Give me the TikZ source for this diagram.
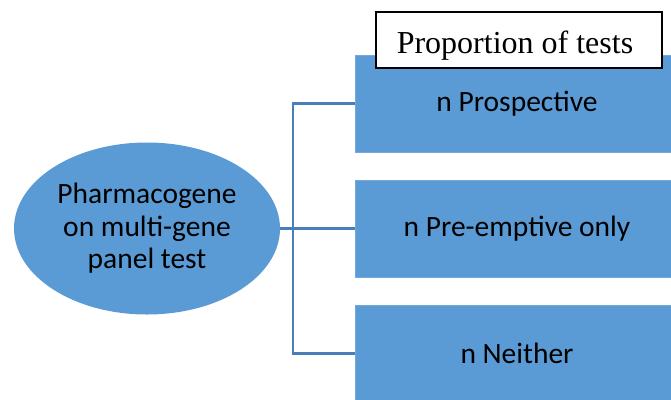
\documentclass[tikz,border=0pt]{standalone}
\usepackage{fontspec}
\setmainfont{Liberation Serif}
\newfontfamily\calib{Carlito}
\usetikzlibrary{shapes.geometric}
\definecolor{boxblue}{HTML}{5B9BD5}
\definecolor{lineblue}{HTML}{4A7EBB}
\begin{document}
\begin{tikzpicture}[x=1pt,y=-1pt,
  blubox/.style={rectangle,fill=boxblue,draw=boxblue!85!white,line width=0.8pt,minimum width=324pt,minimum height=97pt,inner sep=0pt,font=\calib\fontsize{29.5}{32}\selectfont},
  conn/.style={draw=lineblue,line width=2.2pt}]
\useasboundingbox (0,0) rectangle (671,399);
\clip (0,0) rectangle (671,399);
\node[ellipse,fill=boxblue,minimum width=266pt,minimum height=172pt,inner sep=0pt,align=center,font=\calib\fontsize{29.5}{32.5}\selectfont] (ell) at (147,228.5) {Pharmacogene\\on multi-gene\\panel test};
\node[blubox] (b1) at (517,103.5) {n Prospective};
\node[blubox] (b2) at (517,228.5) {n Pre-emptive only};
\node[blubox] (b3) at (517,353.5) {n Neither};
\coordinate (jx) at (293,0);
\draw[conn] (ell.east) -- (b2.west);
\draw[conn] (b1.west) -| (jx |- b3.west) -- (b3.west);
\node[rectangle,draw=black,fill=white,line width=1.2pt,minimum width=286pt,minimum height=56pt,inner sep=0pt] (title) at (519,40) {};
\node[inner sep=0pt,anchor=base,font=\fontsize{32}{34}\selectfont] (ttext) at (515,53) {Proportion of tests};
\end{tikzpicture}
\end{document}
